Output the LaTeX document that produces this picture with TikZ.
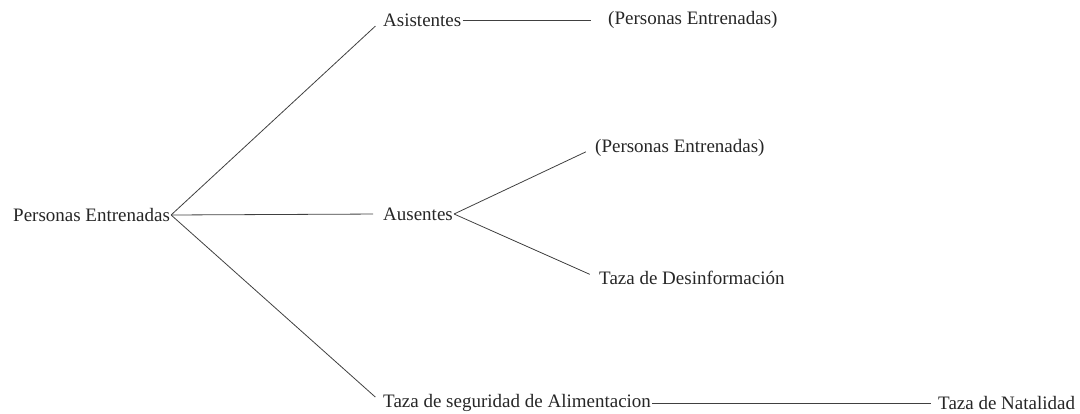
\documentclass[tikz,border=0pt]{standalone}
\usepackage{fontspec}
\setmainfont{Liberation Serif}
\begin{document}
\begin{tikzpicture}[x=1pt,y=-1pt,
  lbl/.style={anchor=west,inner xsep=1pt,inner ysep=0pt,font=\fontsize{19}{22}\selectfont,text=black!85},
  link/.style={draw=black!75,line width=0.8pt,shorten >=9pt}]
\useasboundingbox (0,0) rectangle (1080,414);
\node[lbl] (root) at (12,215) {Personas Entrenadas};
\node[lbl] (asis) at (382,20) {Asistentes};
\node[lbl] (pe1) at (607,20) {(Personas Entrenadas)};
\node[lbl] (aus) at (382,214) {Ausentes};
\node[lbl] (pe2) at (594,148) {(Personas Entrenadas)};
\node[lbl] (taza) at (598,278) {Taza de Desinformación};
\node[lbl] (seg) at (382,403) {Taza de seguridad de Alimentacion};
\node[lbl] (nat) at (937,403) {Taza de Natalidad};
\draw[link] (root.east) -- (asis.west);
\draw[link] (root.east) -- (aus.west);
\draw[link] (root.east) -- (seg.west);
\draw[link,shorten >=16pt] (asis.east) -- (pe1.west);
\draw[link] (aus.east) -- (pe2.west);
\draw[link] (aus.east) -- (taza.west);
\draw[link,shorten >=6pt] (seg.east) -- (nat.west);
\end{tikzpicture}
\end{document}
